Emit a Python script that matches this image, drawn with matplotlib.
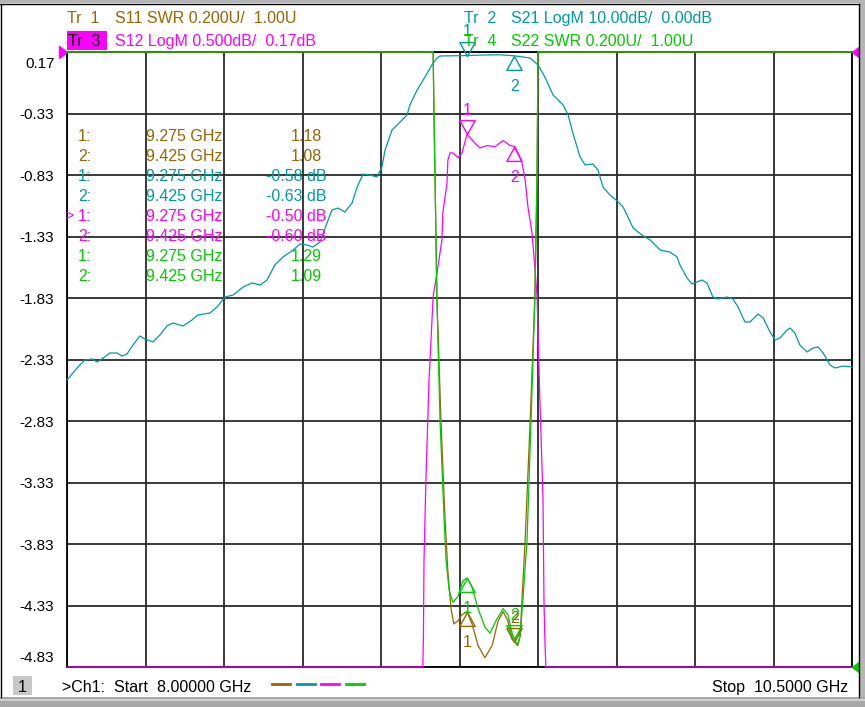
import numpy as np
import matplotlib
matplotlib.use('Agg')
import matplotlib.pyplot as plt
from matplotlib.path import Path
from matplotlib.patches import Rectangle
from matplotlib import transforms

plt.rcParams['font.family'] = ['Liberation Sans', 'DejaVu Sans']

# colours of the four traces
BROWN = '#9A6400'
TEAL = '#009C9C'
MAGENTA = '#FF00FF'
GREEN = '#00CC00'

# sweep 8.0 - 10.5 GHz, display scales of each trace
F_START, F_STOP = 8.0, 10.5
S12_REF, S12_DIV = 0.17, 0.5      # dB, ref at top line
S21_REF, S21_DIV = 0.0, 10.0      # dB, ref at top line
SWR_REF, SWR_DIV = 1.0, 0.2       # U, ref at bottom line

# S21 LogM (teal), GHz / dB
s21_f = [8.000, 8.019, 8.035, 8.057, 8.080, 8.096, 8.115, 8.137, 8.159, 8.175,
         8.191, 8.210, 8.232, 8.248, 8.274, 8.296, 8.318, 8.338, 8.369, 8.398,
         8.417, 8.455, 8.478, 8.503, 8.529, 8.561, 8.589, 8.615, 8.637, 8.662,
         8.688, 8.720, 8.742, 8.764, 8.783, 8.806, 8.828, 8.844, 8.863, 8.885,
         8.908, 8.924, 8.943, 8.965, 8.987, 9.003, 9.013, 9.035, 9.061, 9.083,
         9.092, 9.115, 9.140, 9.162, 9.178, 9.188, 9.220, 9.274, 9.315, 9.379,
         9.427, 9.475, 9.500, 9.522, 9.548, 9.580, 9.596, 9.611, 9.634, 9.650,
         9.675, 9.691, 9.707, 9.729, 9.752, 9.771, 9.803, 9.831, 9.857, 9.889,
         9.920, 9.943, 9.952, 9.975, 9.990, 10.022, 10.038, 10.057, 10.073, 10.102,
         10.121, 10.137, 10.159, 10.175, 10.201, 10.217, 10.239, 10.255, 10.271, 10.293,
         10.303, 10.318, 10.334, 10.357, 10.376, 10.392, 10.408, 10.430, 10.446, 10.471,
         10.500]
s21_db = [-53.33, -52.20, -51.22, -50.08, -49.92, -50.41, -49.76, -48.94, -48.94, -49.43,
          -49.11, -47.64, -46.18, -46.67, -47.15, -46.02, -44.55, -44.07, -44.55, -43.58,
          -42.76, -42.44, -41.46, -39.84, -39.51, -38.21, -37.56, -37.89, -37.07, -34.63,
          -33.33, -32.20, -31.22, -31.38, -31.71, -30.89, -27.80, -25.69, -25.37, -26.02,
          -24.55, -21.95, -19.84, -20.00, -20.33, -18.70, -15.93, -12.68, -11.38, -10.24,
          -8.62, -6.18, -4.07, -2.11, -0.98, -0.65, -0.62, -0.58, -0.50, -0.45,
          -0.63, -0.98, -2.11, -4.07, -6.99, -8.62, -10.24, -13.17, -17.07, -18.37,
          -18.21, -19.19, -21.95, -23.25, -24.23, -25.20, -28.62, -29.76, -30.57, -32.20,
          -32.52, -33.33, -34.63, -36.75, -37.72, -37.07, -37.56, -39.84, -40.16, -39.84,
          -40.16, -41.46, -43.90, -43.90, -42.60, -43.25, -45.53, -46.83, -46.50, -45.20,
          -44.88, -45.69, -47.64, -48.78, -48.13, -47.97, -48.94, -50.89, -51.38, -51.06,
          -51.22]

# S12 LogM (magenta), below -4.83 dB it sits on the bottom line
s12_f = [8.000, 9.133, 9.135, 9.137, 9.143, 9.153, 9.166, 9.178, 9.194, 9.197,
         9.210, 9.213, 9.220, 9.229, 9.245, 9.258, 9.274, 9.299, 9.315, 9.338,
         9.363, 9.389, 9.411, 9.427, 9.436, 9.449, 9.459, 9.468, 9.481, 9.490,
         9.497, 9.506, 9.516, 9.519, 9.522, 9.525, 10.500]
s12_db = [-4.83, -4.83, -4.61, -3.96, -3.31, -2.50, -1.82, -1.63, -1.36, -1.14,
          -0.90, -0.71, -0.65, -0.65, -0.69, -0.65, -0.50, -0.57, -0.61, -0.59,
          -0.60, -0.55, -0.59, -0.60, -0.65, -0.73, -0.87, -1.09, -1.30, -1.58,
          -1.82, -2.66, -3.47, -4.29, -4.61, -4.83, -4.83]

# S11 SWR (brown), above 3.00 it sits on the top line
s11_f = [8.000, 9.166, 9.169, 9.172, 9.178, 9.191, 9.204, 9.213, 9.223, 9.232,
         9.245, 9.258, 9.274, 9.290, 9.309, 9.331, 9.354, 9.373, 9.389, 9.404,
         9.417, 9.427, 9.436, 9.443, 9.449, 9.459, 9.475, 9.490, 9.497, 9.500,
         10.500]
s11_swr = [3.00, 3.00, 2.78, 2.60, 2.20, 1.80, 1.48, 1.31, 1.19, 1.14,
           1.15, 1.17, 1.18, 1.14, 1.07, 1.03, 1.07, 1.15, 1.18, 1.15,
           1.09, 1.08, 1.07, 1.10, 1.22, 1.41, 1.80, 2.20, 2.60, 3.00,
           3.00]

# S22 SWR (green)
s22_f = [8.000, 9.166, 9.169, 9.172, 9.178, 9.188, 9.201, 9.207, 9.217, 9.229,
         9.245, 9.261, 9.274, 9.290, 9.309, 9.331, 9.347, 9.366, 9.389, 9.404,
         9.420, 9.427, 9.433, 9.443, 9.452, 9.465, 9.478, 9.490, 9.497, 9.500,
         10.500]
s22_swr = [3.00, 3.00, 2.78, 2.60, 2.20, 1.80, 1.48, 1.35, 1.25, 1.21,
           1.23, 1.28, 1.29, 1.26, 1.19, 1.13, 1.11, 1.15, 1.19, 1.17,
           1.10, 1.09, 1.07, 1.10, 1.22, 1.41, 1.80, 2.20, 2.60, 3.00,
           3.00]

# markers
mk_freq = [9.275, 9.425]
mk_s11 = [1.18, 1.08]
mk_s21 = [-0.58, -0.63]
mk_s12 = [-0.50, -0.60]
mk_s22 = [1.29, 1.09]

W, H = 865, 707
fig = plt.figure(figsize=(W / 100, H / 100), dpi=100)
fig.patch.set_facecolor('white')


def fx(x):
    return x / W


def fy(y):
    return 1 - y / H


ax = fig.add_axes([fx(67), fy(667), 785 / W, 615 / H])
ax.set_facecolor('white')
ax.set_xlim(F_START, F_STOP)
ax.set_ylim(S12_REF - 10 * S12_DIV, S12_REF)
yt = S12_REF - S12_DIV * np.arange(10, -1, -1)
ax.set_yticks(yt)
ax.set_yticklabels(['%.2f' % v for v in yt])
ax.set_xticks(np.linspace(F_START, F_STOP, 11))
ax.set_xticklabels([])
ax.tick_params(length=0, pad=9, labelsize=11, labelcolor='black')
ax.grid(True, color='#2a2a2a', lw=1.3)
for s in ax.spines.values():
    s.set_color('black')
    s.set_linewidth(1.3)
# top/bottom labels pulled inside the grid
labels = ax.get_yticklabels()
labels[-1].set_transform(labels[-1].get_transform() +
                         transforms.ScaledTranslation(0, -10 / 100, fig.dpi_scale_trans))
labels[0].set_transform(labels[0].get_transform() +
                        transforms.ScaledTranslation(0, 11 / 100, fig.dpi_scale_trans))

ax_swr = ax.twinx()
ax_swr.set_ylim(SWR_REF, SWR_REF + 10 * SWR_DIV)
ax_s21 = ax.twinx()
ax_s21.set_ylim(S21_REF - 10 * S21_DIV, S21_REF)
for a in (ax_swr, ax_s21):
    a.set_yticks([])
    for s in a.spines.values():
        s.set_visible(False)

lw = 0.9
ax.plot(s12_f, s12_db, color=MAGENTA, lw=lw, clip_on=False, zorder=3)
ax_swr.plot(s11_f, s11_swr, color=BROWN, lw=lw, clip_on=False)
ax_swr.plot(s22_f, s22_swr, color=GREEN, lw=lw, clip_on=False)
ax_s21.plot(s21_f, s21_db, color=TEAL, lw=lw, clip_on=False)

# marker triangles, tip on the trace
down_tri = Path([(0, 0), (-0.55, 1), (0.55, 1), (0, 0)])
up_tri = Path([(0, 0), (-0.55, -1), (0.55, -1), (0, 0)])


def draw_marker(a, f, v, lab, col, down):
    a.plot([f], [v], marker=down_tri if down else up_tri, ms=20, mfc='none',
           mec=col, mew=1.0, ls='none', clip_on=False, zorder=5)
    off = 17 if down else -22
    a.annotate(lab, (f, v), xytext=(0, off), textcoords='offset points',
               ha='center', va='center', color=col, fontsize=11.5,
               annotation_clip=False, zorder=5)


draw_marker(ax_swr, mk_freq[0], mk_s11[0], '1', BROWN, False)
draw_marker(ax_swr, mk_freq[1], mk_s11[1], '2', BROWN, True)
draw_marker(ax_s21, mk_freq[0], mk_s21[0], '1', TEAL, True)
draw_marker(ax_s21, mk_freq[1], mk_s21[1], '2', TEAL, False)
draw_marker(ax, mk_freq[0], mk_s12[0], '1', MAGENTA, True)
draw_marker(ax, mk_freq[1], mk_s12[1], '2', MAGENTA, False)
draw_marker(ax_swr, mk_freq[0], mk_s22[0], '1', GREEN, False)
draw_marker(ax_swr, mk_freq[1], mk_s22[1], '2', GREEN, True)

# reference position arrows
ref_right = Path([(0, 0), (-1, 0.75), (-1, -0.75), (0, 0)])
ref_left = Path([(0, 0), (1, 0.75), (1, -0.75), (0, 0)])
ax.plot([0], [1], transform=ax.transAxes, marker=ref_right, ms=11.5,
        color=MAGENTA, clip_on=False, zorder=6)
ax.plot([1], [1], transform=ax.transAxes, marker=ref_left, ms=11.5,
        color=MAGENTA, clip_on=False, zorder=6)
ax.plot([1], [0], transform=ax.transAxes, marker=ref_left, ms=11.5,
        color=GREEN, clip_on=False, zorder=6)


def ptext(x, y, s, col, ha='left', fs=11.5):
    fig.text(fx(x), fy(y), s, color=col, ha=ha, va='baseline', fontsize=fs)


# trace header lines
fig.add_artist(Rectangle((fx(67), fy(50)), 40 / W, 19 / H, transform=fig.transFigure,
                         facecolor=MAGENTA, edgecolor='none'))
ptext(67, 23, 'Tr  1', BROWN)
ptext(115, 23, 'S11 SWR 0.200U/  1.00U', BROWN)
ptext(464, 23, 'Tr  2', TEAL)
ptext(511, 23, 'S21 LogM 10.00dB/  0.00dB', TEAL)
ptext(68, 46, 'Tr  3', 'black')
ptext(115, 46, 'S12 LogM 0.500dB/  0.17dB', MAGENTA)
ptext(464, 46, 'Tr  4', GREEN)
ptext(511, 46, 'S22 SWR 0.200U/  1.00U', GREEN)

# marker readout
rows = [('1:', mk_freq[0], '%.2f' % mk_s11[0], BROWN, 322),
        ('2:', mk_freq[1], '%.2f' % mk_s11[1], BROWN, 322),
        ('1:', mk_freq[0], '%.2f dB' % mk_s21[0], TEAL, 327),
        ('2:', mk_freq[1], '%.2f dB' % mk_s21[1], TEAL, 327),
        ('1:', mk_freq[0], '%.2f dB' % mk_s12[0], MAGENTA, 327),
        ('2:', mk_freq[1], '%.2f dB' % mk_s12[1], MAGENTA, 327),
        ('1:', mk_freq[0], '%.2f' % mk_s22[0], GREEN, 322),
        ('2:', mk_freq[1], '%.2f' % mk_s22[1], GREEN, 322)]
for i, (n, f, v, col, xr) in enumerate(rows):
    yb = 141 + 20 * i
    ptext(78, yb, n, col)
    ptext(222, yb, '%.3f GHz' % f, col, ha='right')
    ptext(xr, yb, v, col, ha='right')
ptext(65, 220, '>', MAGENTA, fs=10)

# bottom status line
fig.add_artist(Rectangle((fx(13), fy(695)), 19 / W, 19 / H, transform=fig.transFigure,
                         facecolor='#c8c8c8', edgecolor='none'))
ptext(22.5, 692, '1', 'black', ha='center')
ptext(62, 692, '>Ch1:  Start  8.00000 GHz', 'black')
for i, col in enumerate([BROWN, TEAL, MAGENTA, GREEN]):
    x0 = 272 + 24.5 * i
    fig.add_artist(plt.Line2D([fx(x0), fx(x0 + 18)], [fy(684), fy(684)],
                              transform=fig.transFigure, color=col, lw=2))
ptext(848, 692, 'Stop  10.5000 GHz', 'black', ha='right')

# window chrome
fig.add_artist(Rectangle((0, fy(3)), 1, 3 / H, transform=fig.transFigure,
                         facecolor='#b4b4b4', edgecolor='none'))
fig.add_artist(plt.Line2D([0, fx(859)], [fy(3.5), fy(3.5)], transform=fig.transFigure,
                          color='black', lw=1))
fig.add_artist(plt.Line2D([fx(1), fx(1)], [fy(697), fy(3.5)], transform=fig.transFigure,
                          color='black', lw=1))
fig.add_artist(plt.Line2D([fx(859), fx(859)], [fy(697), fy(3.5)], transform=fig.transFigure,
                          color='black', lw=1))
fig.add_artist(Rectangle((fx(860), 0), 5 / W, 1, transform=fig.transFigure,
                         facecolor='#b4b4b4', edgecolor='none'))
fig.add_artist(Rectangle((0, 0), 1, 10 / H, transform=fig.transFigure,
                         facecolor='#a8a8a8', edgecolor='none'))
fig.add_artist(Rectangle((0, fy(701)), 1, 2 / H, transform=fig.transFigure,
                         facecolor='#d0d0d0', edgecolor='none'))

fig.savefig('out.png', dpi=100)
